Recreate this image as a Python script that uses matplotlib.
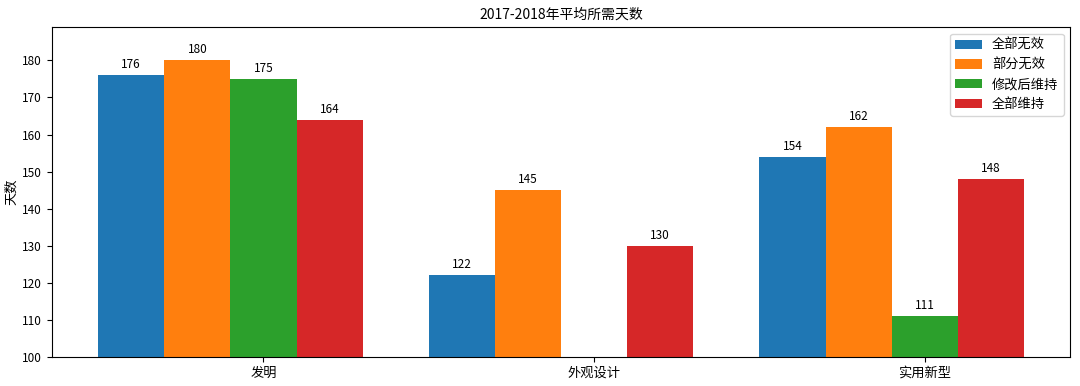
import numpy as np
import matplotlib
matplotlib.use('Agg')
import matplotlib.pyplot as plt

plt.rcParams['font.family'] = ['Noto Sans CJK SC', 'DejaVu Sans']
plt.rcParams['axes.unicode_minus'] = False

categories = ['发明', '外观设计', '实用新型']
series_names = ['全部无效', '部分无效', '修改后维持', '全部维持']
all_invalid = [176, 122, 154]
part_invalid = [180, 145, 162]
amended = [175, 0, 111]
all_kept = [164, 130, 148]

values = [all_invalid, part_invalid, amended, all_kept]
colors = ['#1f77b4', '#ff7f0e', '#2ca02c', '#d62728']

fig = plt.figure(figsize=(10.8, 3.86), dpi=100)
ax = fig.add_axes([0.048, 0.075, 0.943, 0.855])

x = np.arange(len(categories))
w = 0.2
for i, (name, vals) in enumerate(zip(series_names, values)):
    pos = x + (i - 2) * w
    bars = ax.bar(pos, vals, w, label=name, color=colors[i])
    for b, v in zip(bars, vals):
        if v > 100:
            ax.annotate(str(v), (b.get_x() + b.get_width() / 2, v),
                        xytext=(0, 3), textcoords='offset points',
                        ha='center', va='bottom', fontsize=8.5)

ax.set_ylim(100, 189)
ax.set_xticks(x)
ax.set_xticklabels(categories, fontsize=9.5)
ax.tick_params(axis='y', labelsize=8.5)
ax.set_ylabel('天数', fontsize=9.5, labelpad=3)
ax.set_title('2017-2018年平均所需天数', fontsize=10)
ax.legend(loc='upper right', fontsize=9.5)

fig.savefig('out.png', dpi=100)
